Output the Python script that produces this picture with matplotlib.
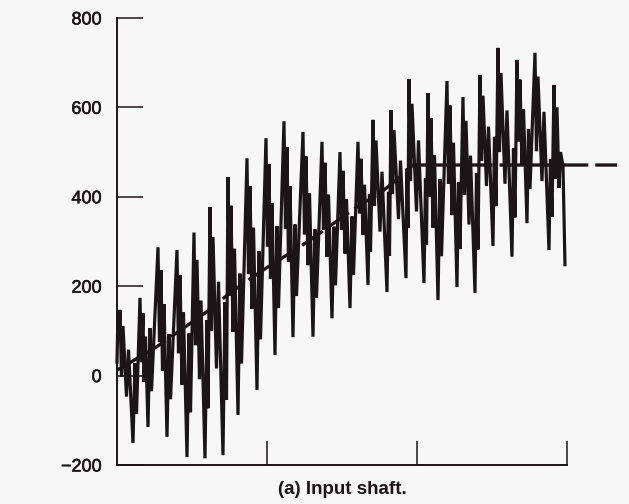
import matplotlib
matplotlib.use('Agg')
import matplotlib.pyplot as plt
import matplotlib.patheffects as pe

plt.rcParams['font.family'] = ['Liberation Sans', 'DejaVu Sans']
plt.rcParams['lines.scale_dashes'] = False

# measured torque trace (arbitrary time units, x axis carries no labels)
t = [0, 1, 2,
     3, 4.5, 6, 9.5, 11.5, 16, 18, 19.5,
     23, 24.5, 26, 27, 28.5, 31, 33, 34.5,
     41, 42.5, 44, 45.5, 47, 50, 52, 53.5,
     60, 61.5, 63, 65, 66.5, 70, 72, 73.5,
     77, 78.5, 80, 82.5, 84, 88, 90, 91,
     93, 94.5, 96, 99.5, 101.5, 106, 108, 109.5,
     111, 112.5, 114, 116, 117.5, 121, 123, 124.5,
     130, 131.5, 133, 135, 136.5, 140, 142, 143.5,
     149, 150.5, 152, 153.5, 155, 158, 160, 161.5,
     167, 168.5, 170, 171.5, 173, 176, 178, 179.5,
     186, 187.5, 189, 191, 192.5, 196, 198, 199.5,
     205, 206.5, 208, 210, 211.5, 215, 217, 218.5,
     223, 224.5, 226, 228, 229.5, 233, 235, 236.5,
     241, 242.5, 244, 246, 247.5, 251, 252.5, 253.5,
     256, 257.5, 259, 263, 265, 270, 271.5, 272.5,
     274, 275.5, 277, 281.5, 283.5, 289, 290, 291,
     292, 293.5, 295, 299.5, 301.5, 307, 308.5, 309.5,
     311, 312.5, 314, 316, 317.5, 321, 323, 324.5,
     330, 331.5, 333, 335, 336.5, 340, 341.5, 343,
     346, 347.5, 349, 352, 353.5, 358, 359.5, 361,
     363, 364.5, 366, 369.5, 371.5, 376, 377.5, 379,
     381, 382.5, 384, 388, 390, 395, 396.5, 398,
     400, 401.5, 403, 405, 406.5, 410, 411.5, 413,
     418, 419.5, 421, 425, 427, 432, 433.5, 435,
     437, 438.5, 440, 442, 443.5, 446, 448]
torque = [30, 140, 95,
          147, -2, 111, -47, 58, -151, 28, -86,
          174, 30, 139, -14, 87, -115, 106, -35,
          287, 75, 236, 11, 160, -137, 93, -53,
          281, 50, 225, -20, 142, -182, 94, -82,
          320, 68, 259, -8, 168, -185, 124, -73,
          377, 100, 310, 16, 210, -178, 164, -54,
          444, 178, 380, 98, 284, -88, 228, 27,
          486, 227, 424, 149, 331, -32, 278, 81,
          531, 289, 473, 216, 386, 46, 334, 151,
          569, 328, 511, 255, 424, 86, 338, 178,
          545, 316, 490, 247, 408, 87, 327, 174,
          523, 326, 476, 266, 405, 128, 333, 202,
          500, 326, 458, 273, 395, 151, 356, 225,
          523, 363, 485, 315, 427, 203, 406, 277,
          572, 380, 526, 322, 456, 187, 411, 268,
          594, 406, 549, 350, 481, 218, 463, 330,
          663, 435, 608, 367, 526, 207, 441, 292,
          632, 400, 576, 331, 493, 169, 439, 267,
          659, 429, 604, 359, 521, 198, 432, 283,
          623, 404, 570, 338, 492, 185, 453, 282,
          672, 481, 626, 424, 557, 290, 534, 379,
          733, 500, 677, 429, 593, 266, 508, 354,
          706, 524, 662, 469, 596, 341, 551, 417,
          722, 502, 669, 435, 590, 281, 484, 355,
          650, 440, 600, 420, 500, 470, 248]

# mean (dashed) curve
t_mean = [0, 26, 40, 90, 113, 146, 183, 210, 243, 263, 283, 296, 500]
torque_mean = [12, 46, 65, 143, 185, 236, 288, 330, 382, 408, 444, 471, 471]

yticks = [-200, 0, 200, 400, 600, 800]
xticks = [150, 300, 450]

bg = '#f7f7f7'
ink = '#1c1416'

fig = plt.figure(figsize=(6.29, 5.04), dpi=100, facecolor=bg)
ax = fig.add_axes([0.186, 0.0774, 0.7154, 0.887], facecolor=bg)

ax.plot(t, torque, color=ink, lw=2.3, solid_joinstyle='miter', clip_on=False)
ax.plot(t_mean, torque_mean, color=ink, lw=2.4, dashes=(18, 5), clip_on=False)

ax.set_xlim(0, 450)
ax.set_ylim(-200, 800)
ax.set_yticks(yticks)
ax.set_xticks(xticks)
ax.set_xticklabels([])
ax.tick_params(axis='y', direction='in', length=19, width=1.1, pad=11,
               labelsize=13, colors=ink)
ax.tick_params(axis='x', direction='in', length=17, width=1.1, colors=ink)
for lab in ax.get_yticklabels():
    lab.set_path_effects([pe.withStroke(linewidth=0.4, foreground=ink)])

ax.spines['top'].set_visible(False)
ax.spines['right'].set_visible(False)
for s in ['left', 'bottom']:
    ax.spines[s].set_linewidth(1.4)
    ax.spines[s].set_color(ink)

fig.text(0.545, 0.028, '(a) Input shaft.', ha='center', va='center',
         fontsize=13.5, fontweight='bold', color=ink)

fig.savefig('out.png', dpi=100, facecolor=bg)
